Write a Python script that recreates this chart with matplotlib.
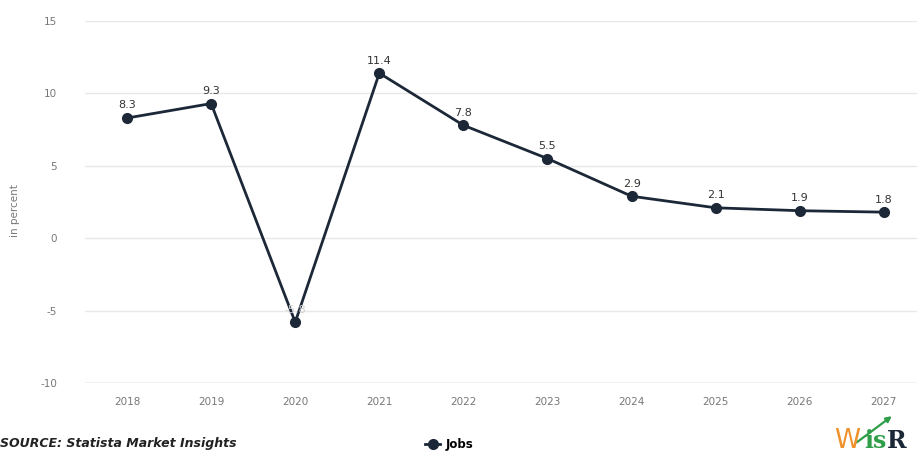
import matplotlib
matplotlib.use("Agg")
import matplotlib.pyplot as plt
from matplotlib.patches import FancyArrowPatch

years = ["2018", "2019", "2020", "2021", "2022", "2023", "2024", "2025", "2026", "2027"]
jobs = [8.3, 9.3, -5.8, 11.4, 7.8, 5.5, 2.9, 2.1, 1.9, 1.8]
y_ticks = [-10, -5, 0, 5, 10, 15]

line_color = "#1c2838"
tick_color = "#777777"

fig = plt.figure(figsize=(9.17, 4.53), dpi=100)
fig.patch.set_facecolor("white")
ax = fig.add_axes([0.0927, 0.1545, 0.917, 0.7991])

x = list(range(len(years)))
ax.plot(x, jobs, color=line_color, lw=2, marker="o", ms=7, zorder=3, label="Jobs")

for xi, v in zip(x, jobs):
    color = "#cfcfcf" if v < 0 else "#333333"
    ax.annotate(f"{v:g}", (xi, v), xytext=(0, 5.5), textcoords="offset points",
                ha="center", va="bottom", fontsize=8, color=color, zorder=4)

ax.set_xlim(-0.5, len(years) - 0.5)
ax.set_ylim(-10, 15)
ax.set_xticks(x)
ax.set_xticklabels(years)
ax.set_yticks(y_ticks)
ax.set_yticklabels([str(t) for t in y_ticks])
ax.tick_params(axis="both", length=0, labelsize=7.5, colors=tick_color)
ax.tick_params(axis="x", pad=10)
ax.tick_params(axis="y", pad=20)
ax.grid(axis="y", color="#e8e8e8", lw=1)
ax.set_axisbelow(True)
for s in ax.spines.values():
    s.set_visible(False)
ax.axhline(-10, color="#ccd6eb", lw=1, zorder=1)

fig.text(0.016, 0.535, "in percent", rotation=90, ha="center", va="center",
         fontsize=7.5, color=tick_color)

# footer: source note, legend entry, brand mark
fig.text(0.0, 0.006, "SOURCE: Statista Market Insights", ha="left", va="bottom",
         fontsize=9, fontweight="bold", fontstyle="italic", color="#222222")

fig.legend(loc="center", bbox_to_anchor=(0.49, 0.018), frameon=False,
           handlelength=1.3, handletextpad=0.5, prop={"weight": "bold", "size": 8.5})

fig.text(0.910, 0.012, "W", ha="left", va="baseline", fontsize=19, color="#f0922b",
         family="DejaVu Sans")
fig.text(0.942, 0.012, "is", ha="left", va="baseline", fontsize=17, color="#2e9e48",
         family="DejaVu Serif", fontweight="bold")
fig.text(0.967, 0.012, "R", ha="left", va="baseline", fontsize=17, color="#1c2838",
         family="DejaVu Serif", fontweight="bold")
fig.add_artist(FancyArrowPatch(
    (0.932, 0.02), (0.975, 0.085), transform=fig.transFigure,
    arrowstyle="-|>", mutation_scale=8, color="#2e9e48", lw=1.6))

fig.savefig("out.png", dpi=100, facecolor="white")
